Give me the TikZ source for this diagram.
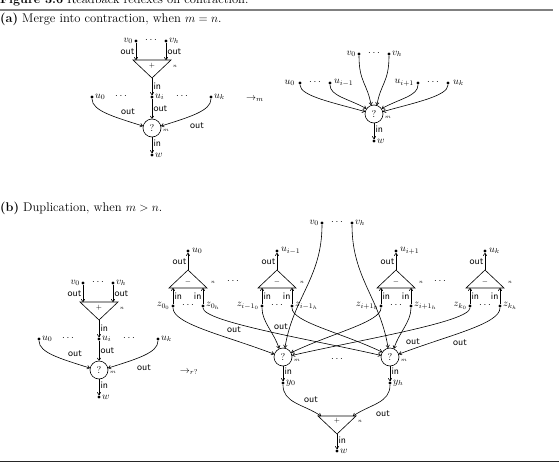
\documentclass[tikz,border=0pt]{standalone}
\usetikzlibrary{arrows.meta}
\tikzset{
 dot/.style={circle,fill,inner sep=0pt,minimum size=3.4pt},
 qnode/.style={circle,draw,line width=0.6pt,minimum size=18pt,inner sep=0pt,font=\fontsize{10}{10}\selectfont},
 lbl/.style={font=\sffamily\fontsize{10}{10}\selectfont,inner sep=1.2pt},
 mlbl/.style={font=\fontsize{10}{10}\selectfont,inner sep=1pt},
 sym/.style={font=\fontsize{7.5}{7.5}\selectfont,inner sep=0pt},
 tinylbl/.style={font=\fontsize{5}{5}\selectfont,inner sep=0pt},
 wire/.style={-{To[length=3pt,width=4pt]},line width=0.6pt},
 edgeline/.style={line width=0.6pt},
 head/.style={font=\fontsize{12.6}{13}\selectfont,anchor=base west,inner sep=0pt},
}
% contraction part (coordinates of part (a), left)
\newcommand\contrpart{%
 \node[dot,label={[mlbl]left:$v_0$}] (v0) at (136,41) {};
 \node[dot,label={[mlbl]right:$v_h$}] (vh) at (166,41) {};
 \node[mlbl] (vd) at (151,40) {$\cdots$};
 \coordinate (tl) at (133,60); \coordinate (tr) at (171,60); \coordinate (ta) at (152,78);
 \draw[edgeline] (tl) -- (tr) -- (ta) -- cycle;
 \node[sym] (tp) at (152,66) {$+$};
 \node[tinylbl] (tn) at (175,66) {$n$};
 \coordinate (ti0) at (136,60); \coordinate (tih) at (166,60);
 \draw[wire] (v0) -- (ti0) node[lbl,midway,left] (o1) {out};
 \draw[wire] (vh) -- (tih) node[lbl,midway,right] (o2) {out};
 \node[dot,label={[mlbl]right:$u_i$}] (ui) at (152,97) {};
 \node[mlbl] (ud2) at (182,96) {$\cdots$};
 \node[dot,label={[mlbl]right:$u_0$}] (u0) at (92,97) {};
 \node[mlbl] (ud1) at (121,96) {$\cdots$};
 \node[dot,label={[mlbl]right:$u_k$}] (uk) at (211,97) {};
 \draw[wire] (ta) -- (ui) node[lbl,midway,right] (i1) {in};
 \node[qnode] (q) at (152,128) {?};
 \node[tinylbl] (qm) at (166,130) {$m$};
 \draw[wire] (ui) -- (q) node[lbl,midway,right] (o3) {out};
 \draw[wire] (u0) .. controls +(0,14) and +(-28,-9) .. (q.168);
 \draw[wire] (uk) .. controls +(0,14) and +(28,-9) .. (q.12);
 \node[lbl] (o4) at (128,112) {out};
 \node[lbl] (o5) at (197,126) {out};
 \node[dot,label={[mlbl]right:$w$}] (w) at (152,155) {};
 \draw[wire] (q) -- (w) node[lbl,pos=0.4,right] (i2) {in};
}
\newcommand\mtri[5]{%
 \coordinate (#1a) at (#2,270);
 \coordinate (#1l) at ({#2-19},288);
 \coordinate (#1r) at ({#2+19},288);
 \draw[edgeline] (#1a) -- (#1l) -- (#1r) -- cycle;
 \node[sym] (#1m) at (#2,282) {$-$};
 \node[tinylbl] (#1n) at ({#2+25},282) {$n$};
 \node[dot,label={[mlbl,label distance=1pt]right:#3}] (#1u) at (#2,251) {};
 \draw[wire] (#1a) -- (#1u) node[lbl,midway,left] (#1o) {out};
 \node[dot,label={[mlbl]left:#4}] (#1z0) at ({#2-15},306) {};
 \node[dot,label={[mlbl]right:#5}] (#1zh) at ({#2+15},306) {};
 \node[mlbl] (#1d) at (#2,305) {$\cdots$};
 \coordinate (#1b0) at ({#2-15},288);
 \coordinate (#1bh) at ({#2+15},288);
 \draw[wire] (#1z0) -- (#1b0) node[lbl,midway,right] (#1i0) {in};
 \draw[wire] (#1zh) -- (#1bh) node[lbl,midway,left] (#1ih) {in};
}
\begin{document}
\begin{tikzpicture}[x=1pt,y=-1pt]
\useasboundingbox (0,0) rectangle (559,463);
% headings and rules
\node[head] (title) at (0,4) {\textbf{Figure 3.6} Readback redexes on contraction.};
\draw[gray,line width=1.3pt] (0,10) -- (553,10);
\node[head] (ha) at (0,22) {\textbf{(a)} Merge into contraction, when $m=n$.};
\node[head] (hb) at (0,211) {\textbf{(b)} Duplication, when $m>n$.};
\draw[black!85,line width=1.1pt] (0,461.5) -- (559,461.5);

% (a) left
\begin{scope}[name prefix=a-]
 \contrpart
\end{scope}
\node[mlbl] (arrm) at (255,99) {$\to_{m}$};

% (a) right
\begin{scope}[name prefix=r-]
 \node[dot,label={[mlbl]left:$v_0$}] (v0) at (359,54) {};
 \node[dot,label={[mlbl]right:$v_h$}] (vh) at (389,54) {};
 \node[mlbl] (vd) at (374,53) {$\cdots$};
 \node[dot,label={[mlbl,label distance=2pt]left:$u_0$}] (u0) at (300,83) {};
 \node[mlbl] (ud1) at (315,82) {$\cdots$};
 \node[dot,label={[mlbl,label distance=1pt]right:$u_{i-1}$}] (ua) at (330,83) {};
 \node[dot,label={[mlbl,label distance=1pt]left:$u_{i+1}$}] (ub) at (418,83) {};
 \node[mlbl] (ud2) at (433,82) {$\cdots$};
 \node[dot,label={[mlbl,label distance=2pt]right:$u_k$}] (uk) at (448,83) {};
 \node[qnode] (q) at (374,114) {?};
 \node[tinylbl] (qm) at (388,117) {$m$};
 \draw[wire] (v0) .. controls +(0,28) and +(-4,-22) .. (q.108);
 \draw[wire] (vh) .. controls +(0,28) and +(4,-22) .. (q.72);
 \draw[wire] (u0) .. controls +(0,13) and +(-32,-9) .. (q.165);
 \draw[wire] (ua) .. controls +(0,13) and +(-18,-10) .. (q.145);
 \draw[wire] (ub) .. controls +(0,13) and +(18,-10) .. (q.35);
 \draw[wire] (uk) .. controls +(0,13) and +(32,-9) .. (q.15);
 \node[dot,label={[mlbl]right:$w$}] (w) at (374,141) {};
 \draw[wire] (q) -- (w) node[lbl,pos=0.4,right] (i1) {in};
\end{scope}

% (b) left
\begin{scope}[shift={(-53,242)},name prefix=b-]
 \contrpart
\end{scope}
\node[mlbl] (arrr) at (189,372) {$\to_{r?}$};

% (b) right
\node[dot,label={[mlbl]left:$v_0$}] (v0) at (322,223) {};
\node[dot,label={[mlbl]right:$v_h$}] (vh) at (352,223) {};
\node[mlbl] (vd) at (337,222) {$\cdots$};
\mtri{A}{188}{$u_0$}{$z_{0_0}$}{$z_{0_h}$}
\mtri{B}{277}{$u_{i-1}$}{$z_{i-1_0}$}{$z_{i-1_h}$}
\mtri{C}{396}{$u_{i+1}$}{$z_{i+1_0}$}{$z_{i+1_h}$}
\mtri{D}{485}{$u_k$}{$z_{k_0}$}{$z_{k_h}$}
\node[mlbl] (td1) at (233,281) {$\cdots$};
\node[mlbl] (td2) at (440,281) {$\cdots$};

\node[qnode] (lc) at (283,357) {?};
\node[qnode] (rc) at (390,357) {?};
\node[tinylbl] (lcm) at (297,360) {$m$};
\node[tinylbl] (rcm) at (404,360) {$m$};
\node[mlbl] (cd) at (337,359) {$\cdots$};

% into left circle
\draw[wire] (Az0) .. controls +(0,18) and +(-50,-19) .. (lc.162);
\draw[wire] (Bz0) .. controls +(0,16) and +(-5,-16) .. (lc.115);
\draw[wire] (v0) .. controls +(0,55) and +(8,-50) .. (lc.78);
\draw[wire] (Cz0) .. controls +(0,16) and +(42,-20) .. (lc.28);
\draw[wire] (Dz0) .. controls +(0,16) and +(65,-15) .. (lc.10);
% into right circle
\draw[wire] (Azh) .. controls +(0,16) and +(-65,-15) .. (rc.170);
\draw[wire] (Bzh) .. controls +(0,16) and +(-42,-20) .. (rc.148);
\draw[wire] (vh) .. controls +(0,55) and +(-8,-50) .. (rc.102);
\draw[wire] (Czh) .. controls +(0,16) and +(5,-16) .. (rc.65);
\draw[wire] (Dzh) .. controls +(0,18) and +(50,-19) .. (rc.18);
\node[lbl] (bo1) at (234,330) {out};
\node[lbl] (bo2) at (281,327) {out};
\node[lbl] (bo3) at (413,342) {out};
\node[lbl] (bo4) at (460,343) {out};

\node[dot,label={[mlbl]right:$y_0$}] (y0) at (283,383) {};
\node[dot,label={[mlbl]right:$y_h$}] (yh) at (390,383) {};
\draw[wire] (lc) -- (y0) node[lbl,pos=0.35,right] (bi1) {in};
\draw[wire] (rc) -- (yh) node[lbl,pos=0.35,right] (bi2) {in};

\coordinate (Pl) at (318,416); \coordinate (Pr) at (356,416); \coordinate (Pa) at (337,434);
\draw[edgeline] (Pl) -- (Pr) -- (Pa) -- cycle;
\node[sym] (Pp) at (337,421) {$+$};
\node[tinylbl] (Pn) at (360,421) {$n$};
\coordinate (P0) at (321,416); \coordinate (Ph) at (353,416);
\draw[wire] (y0) .. controls +(0,20) and +(-18,-12) .. (P0);
\draw[wire] (yh) .. controls +(0,20) and +(18,-12) .. (Ph);
\node[lbl] (bo5) at (311,400) {out};
\node[lbl] (bo6) at (383,414) {out};
\node[dot,label={[mlbl]right:$w$}] (w) at (337,451) {};
\draw[wire] (Pa) -- (w) node[lbl,pos=0.4,right] (bi3) {in};
\end{tikzpicture}
\end{document}
